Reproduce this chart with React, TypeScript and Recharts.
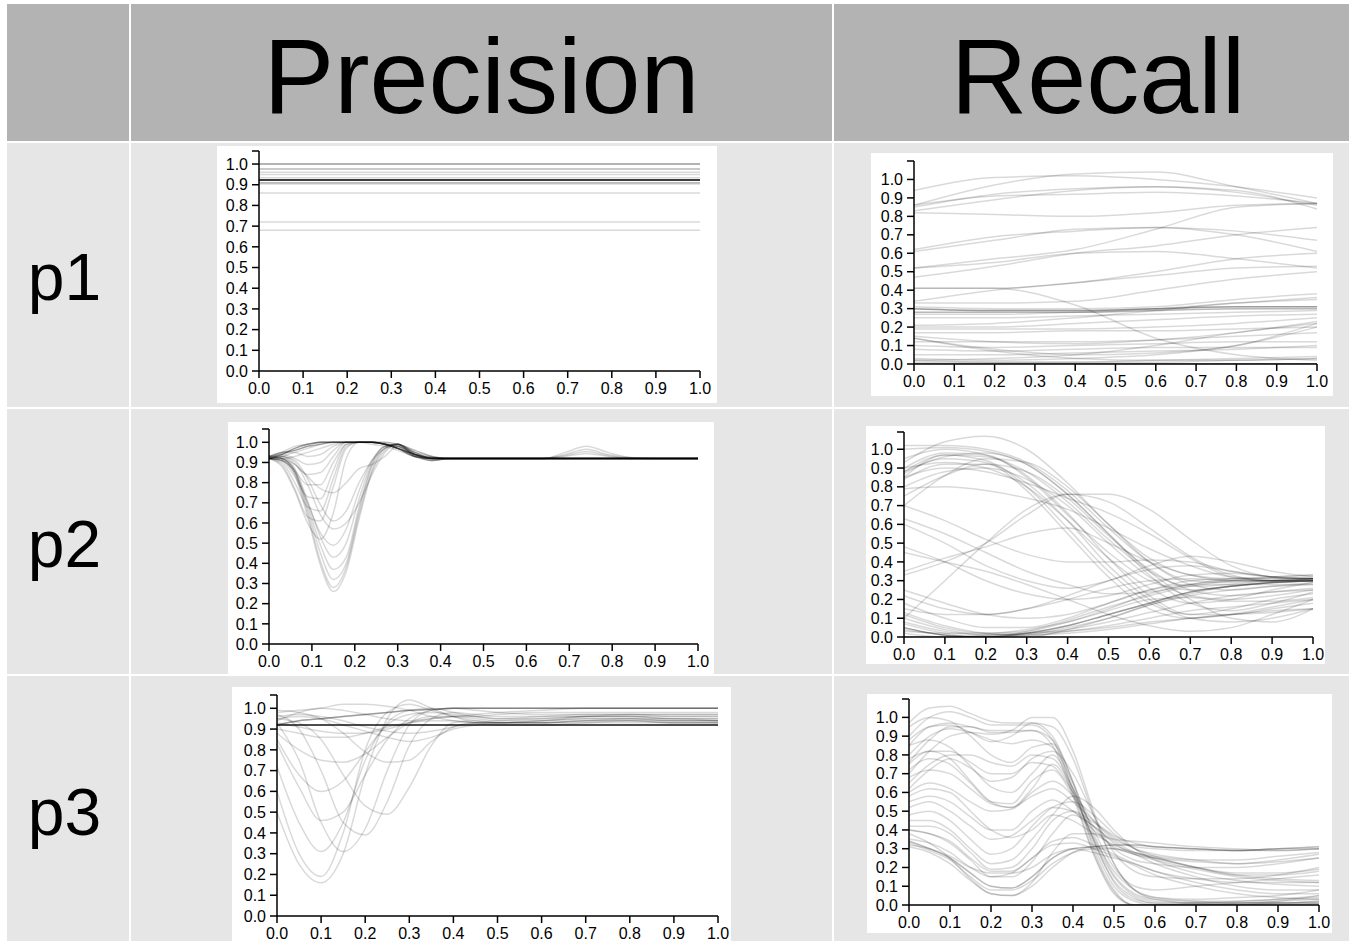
import React from 'react';
import { LineChart, Line, XAxis, YAxis } from 'recharts';

const FONT = '"Liberation Sans", Arial, Helvetica, sans-serif';

const columnTitles = ['Precision', 'Recall'];
const rowLabels = ['p1', 'p2', 'p3'];
const xTicks = [0, 0.1, 0.2, 0.3, 0.4, 0.5, 0.6, 0.7, 0.8, 0.9, 1.0];
const yTicks = [0, 0.1, 0.2, 0.3, 0.4, 0.5, 0.6, 0.7, 0.8, 0.9, 1.0];

// p1 / precision: flat lines
const p1PrecisionX = [0, 1];
const p1PrecisionLines = [
  [1.0, 1.0], [1.0, 1.0], [1.0, 1.0],
  [0.976, 0.976], [0.976, 0.976],
  [0.96, 0.96], [0.95, 0.95], [0.934, 0.934],
  [0.923, 0.923], [0.923, 0.923], [0.923, 0.923], [0.923, 0.923],
  [0.923, 0.923], [0.923, 0.923], [0.923, 0.923], [0.923, 0.923],
  [0.923, 0.923], [0.923, 0.923], [0.923, 0.923], [0.923, 0.923],
  [0.91, 0.91], [0.91, 0.91], [0.903, 0.903],
  [0.86, 0.86], [0.72, 0.72], [0.68, 0.68],
];

// p1 / recall
const p1RecallX = [0, 0.2, 0.4, 0.6, 0.8, 1.0];
const p1RecallLines = [
  [0.94, 1.01, 1.02, 1.0, 0.96, 0.9],
  [0.86, 0.97, 1.03, 1.04, 0.96, 0.87],
  [0.86, 0.91, 0.92, 0.93, 0.91, 0.87],
  [0.85, 0.92, 0.95, 0.96, 0.93, 0.86],
  [0.82, 0.81, 0.8, 0.82, 0.86, 0.87],
  [0.83, 0.89, 0.94, 0.96, 0.94, 0.84],
  [0.62, 0.69, 0.72, 0.74, 0.72, 0.67],
  [0.61, 0.67, 0.73, 0.74, 0.7, 0.61],
  [0.52, 0.57, 0.62, 0.73, 0.85, 0.87],
  [0.52, 0.55, 0.6, 0.61, 0.57, 0.52],
  [0.47, 0.53, 0.6, 0.64, 0.7, 0.74],
  [0.41, 0.41, 0.44, 0.5, 0.57, 0.6],
  [0.41, 0.41, 0.32, 0.14, 0.05, 0.02],
  [0.34, 0.4, 0.44, 0.48, 0.52, 0.53],
  [0.33, 0.33, 0.34, 0.4, 0.46, 0.5],
  [0.31, 0.3, 0.3, 0.31, 0.35, 0.38],
  [0.3, 0.29, 0.29, 0.3, 0.31, 0.31],
  [0.3, 0.29, 0.29, 0.3, 0.31, 0.31],
  [0.3, 0.29, 0.29, 0.3, 0.31, 0.31],
  [0.28, 0.28, 0.28, 0.29, 0.3, 0.3],
  [0.28, 0.28, 0.28, 0.29, 0.3, 0.3],
  [0.27, 0.27, 0.28, 0.3, 0.33, 0.36],
  [0.25, 0.25, 0.26, 0.27, 0.28, 0.29],
  [0.21, 0.22, 0.25, 0.29, 0.33, 0.35],
  [0.2, 0.2, 0.22, 0.24, 0.26, 0.27],
  [0.19, 0.19, 0.19, 0.2, 0.22, 0.25],
  [0.17, 0.17, 0.18, 0.18, 0.19, 0.2],
  [0.15, 0.12, 0.11, 0.13, 0.17, 0.23],
  [0.14, 0.08, 0.05, 0.06, 0.1, 0.22],
  [0.14, 0.07, 0.03, 0.02, 0.02, 0.03],
  [0.12, 0.12, 0.12, 0.13, 0.15, 0.17],
  [0.1, 0.09, 0.1, 0.11, 0.12, 0.12],
  [0.08, 0.07, 0.08, 0.09, 0.09, 0.09],
  [0.05, 0.05, 0.06, 0.07, 0.08, 0.1],
  [0.03, 0.02, 0.03, 0.05, 0.1, 0.2],
  [0.02, 0.01, 0.01, 0.02, 0.03, 0.04],
  [0.01, 0.01, 0.01, 0.01, 0.02, 0.03],
  [0.02, 0.03, 0.05, 0.1, 0.17, 0.22],
  [0, 0, 0, 0, 0, 0],
  [0, 0, 0, 0, 0, 0],
  [0, 0, 0, 0, 0, 0],
];

// p2 / precision
const p2PrecisionX = [0, 0.03, 0.06, 0.09, 0.12, 0.15, 0.18, 0.21, 0.24, 0.27, 0.3, 0.34, 0.38, 0.42, 0.55, 0.64, 0.69, 0.74, 0.79, 0.84, 0.9, 1.0];
const p2PrecisionLines = [
  [0.92, 0.94, 0.97, 0.99, 1.0, 1.0, 1.0, 1.0, 1.0, 0.99, 0.97, 0.94, 0.925, 0.92, 0.92, 0.92, 0.92, 0.92, 0.92, 0.92, 0.92, 0.92],
  [0.92, 0.94, 0.97, 0.99, 1.0, 1.0, 1.0, 1.0, 1.0, 0.99, 0.97, 0.94, 0.925, 0.92, 0.92, 0.92, 0.92, 0.92, 0.92, 0.92, 0.92, 0.92],
  [0.93, 0.95, 0.96, 0.98, 0.99, 1.0, 1.0, 1.0, 1.0, 1.0, 0.99, 0.96, 0.93, 0.92, 0.92, 0.92, 0.92, 0.92, 0.92, 0.92, 0.92, 0.92],
  [0.93, 0.95, 0.96, 0.98, 0.99, 1.0, 1.0, 1.0, 1.0, 1.0, 0.99, 0.96, 0.93, 0.92, 0.92, 0.92, 0.92, 0.92, 0.92, 0.92, 0.92, 0.92],
  [0.92, 0.93, 0.95, 0.97, 0.99, 1.0, 1.0, 1.0, 1.0, 0.995, 0.98, 0.95, 0.93, 0.92, 0.92, 0.92, 0.95, 0.98, 0.95, 0.925, 0.92, 0.92],
  [0.92, 0.94, 0.96, 0.98, 1.0, 1.0, 1.0, 1.0, 1.0, 0.99, 0.98, 0.94, 0.925, 0.92, 0.92, 0.92, 0.94, 0.965, 0.94, 0.925, 0.92, 0.92],
  [0.93, 0.94, 0.97, 0.99, 1.0, 1.0, 1.0, 1.0, 1.0, 0.99, 0.97, 0.94, 0.92, 0.92, 0.92, 0.92, 0.935, 0.955, 0.935, 0.92, 0.92, 0.92],
  [0.92, 0.95, 0.98, 0.99, 1.0, 1.0, 1.0, 1.0, 0.99, 0.98, 0.96, 0.93, 0.92, 0.92, 0.92, 0.92, 0.93, 0.945, 0.93, 0.92, 0.92, 0.92],
  [0.92, 0.92, 0.93, 0.95, 0.97, 0.99, 1.0, 1.0, 1.0, 0.99, 0.97, 0.94, 0.925, 0.92, 0.92, 0.92, 0.92, 0.92, 0.92, 0.92, 0.92, 0.92],
  [0.92, 0.91, 0.84, 0.63, 0.39, 0.26, 0.36, 0.62, 0.85, 0.96, 0.99, 0.95, 0.92, 0.92, 0.92, 0.92, 0.92, 0.92, 0.92, 0.92, 0.92, 0.92],
  [0.92, 0.91, 0.85, 0.65, 0.41, 0.28, 0.38, 0.64, 0.86, 0.97, 0.99, 0.94, 0.91, 0.92, 0.92, 0.92, 0.92, 0.92, 0.92, 0.92, 0.92, 0.92],
  [0.93, 0.92, 0.86, 0.67, 0.45, 0.32, 0.4, 0.66, 0.88, 0.97, 0.99, 0.94, 0.91, 0.92, 0.92, 0.92, 0.92, 0.92, 0.92, 0.92, 0.92, 0.92],
  [0.93, 0.92, 0.86, 0.69, 0.49, 0.37, 0.43, 0.68, 0.89, 0.98, 0.99, 0.93, 0.91, 0.92, 0.92, 0.92, 0.92, 0.92, 0.92, 0.92, 0.92, 0.92],
  [0.93, 0.92, 0.87, 0.71, 0.53, 0.43, 0.5, 0.72, 0.9, 0.98, 0.99, 0.93, 0.91, 0.92, 0.92, 0.92, 0.92, 0.92, 0.92, 0.92, 0.92, 0.92],
  [0.92, 0.91, 0.85, 0.7, 0.55, 0.49, 0.57, 0.76, 0.91, 0.98, 0.99, 0.93, 0.92, 0.92, 0.92, 0.92, 0.92, 0.92, 0.92, 0.92, 0.92, 0.92],
  [0.92, 0.93, 0.9, 0.79, 0.64, 0.57, 0.6, 0.7, 0.84, 0.95, 0.99, 0.95, 0.92, 0.92, 0.92, 0.92, 0.92, 0.92, 0.92, 0.92, 0.92, 0.92],
  [0.92, 0.93, 0.91, 0.82, 0.69, 0.61, 0.66, 0.8, 0.91, 0.97, 0.99, 0.94, 0.92, 0.92, 0.92, 0.92, 0.92, 0.92, 0.92, 0.92, 0.92, 0.92],
  [0.92, 0.92, 0.89, 0.83, 0.77, 0.75, 0.8, 0.87, 0.89, 0.93, 0.98, 0.95, 0.92, 0.92, 0.92, 0.92, 0.92, 0.92, 0.92, 0.92, 0.92, 0.92],
  [0.92, 0.88, 0.76, 0.6, 0.52, 0.65, 0.92, 1.0, 1.0, 0.99, 0.98, 0.94, 0.92, 0.92, 0.92, 0.92, 0.92, 0.92, 0.92, 0.92, 0.92, 0.92],
  [0.92, 0.89, 0.77, 0.63, 0.61, 0.78, 0.97, 1.0, 1.0, 0.99, 0.98, 0.94, 0.92, 0.92, 0.92, 0.92, 0.92, 0.92, 0.92, 0.92, 0.92, 0.92],
  [0.92, 0.9, 0.8, 0.68, 0.66, 0.82, 0.98, 1.0, 1.0, 0.99, 0.97, 0.94, 0.92, 0.92, 0.92, 0.92, 0.92, 0.92, 0.92, 0.92, 0.92, 0.92],
  [0.92, 0.91, 0.83, 0.73, 0.72, 0.86, 0.99, 1.0, 1.0, 0.99, 0.97, 0.94, 0.92, 0.92, 0.92, 0.92, 0.92, 0.92, 0.92, 0.92, 0.92, 0.92],
  [0.92, 0.92, 0.86, 0.79, 0.79, 0.9, 0.99, 1.0, 1.0, 0.99, 0.97, 0.93, 0.92, 0.92, 0.92, 0.92, 0.92, 0.92, 0.92, 0.92, 0.92, 0.92],
  [0.92, 0.93, 0.89, 0.84, 0.85, 0.93, 1.0, 1.0, 1.0, 0.99, 0.97, 0.93, 0.92, 0.92, 0.92, 0.92, 0.92, 0.92, 0.92, 0.92, 0.92, 0.92],
  [0.93, 0.94, 0.92, 0.89, 0.9, 0.96, 1.0, 1.0, 1.0, 0.99, 0.97, 0.93, 0.92, 0.92, 0.92, 0.92, 0.92, 0.92, 0.92, 0.92, 0.92, 0.92],
  [0.93, 0.95, 0.95, 0.93, 0.94, 0.98, 1.0, 1.0, 1.0, 0.99, 0.97, 0.93, 0.92, 0.92, 0.92, 0.92, 0.92, 0.92, 0.92, 0.92, 0.92, 0.92],
];

// p2 / recall
const p2RecallX = [0, 0.1, 0.2, 0.3, 0.4, 0.5, 0.6, 0.7, 0.8, 0.9, 1.0];
const p2RecallLines = [
  [0.9, 0.98, 0.97, 0.85, 0.65, 0.45, 0.3, 0.25, 0.27, 0.29, 0.3],
  [0.85, 0.97, 0.96, 0.88, 0.72, 0.52, 0.35, 0.27, 0.28, 0.3, 0.31],
  [0.93, 1.04, 1.07, 1.0, 0.82, 0.6, 0.42, 0.33, 0.31, 0.31, 0.31],
  [1.02, 1.02, 1.0, 0.93, 0.78, 0.58, 0.4, 0.3, 0.29, 0.3, 0.3],
  [0.75, 0.86, 0.92, 0.88, 0.74, 0.54, 0.36, 0.25, 0.22, 0.24, 0.26],
  [0.88, 0.97, 0.94, 0.8, 0.58, 0.35, 0.18, 0.12, 0.15, 0.2, 0.23],
  [0.87, 0.95, 0.93, 0.78, 0.55, 0.32, 0.15, 0.1, 0.12, 0.16, 0.2],
  [0.84, 0.92, 0.92, 0.82, 0.62, 0.38, 0.2, 0.1, 0.08, 0.1, 0.15],
  [0.95, 1.0, 0.97, 0.86, 0.66, 0.42, 0.22, 0.12, 0.12, 0.15, 0.18],
  [0.8, 0.88, 0.9, 0.84, 0.7, 0.5, 0.32, 0.22, 0.2, 0.22, 0.25],
  [0.79, 0.8, 0.78, 0.74, 0.68, 0.58, 0.47, 0.38, 0.32, 0.31, 0.32],
  [0.7, 0.86, 0.95, 0.93, 0.8, 0.6, 0.4, 0.28, 0.25, 0.27, 0.29],
  [1.0, 1.01, 0.99, 0.92, 0.76, 0.55, 0.35, 0.2, 0.1, 0.08, 0.15],
  [0.88, 0.96, 0.98, 0.92, 0.76, 0.55, 0.33, 0.18, 0.14, 0.18, 0.24],
  [0.9, 0.93, 0.9, 0.8, 0.62, 0.42, 0.26, 0.18, 0.2, 0.25, 0.29],
  [0.85, 0.9, 0.88, 0.82, 0.74, 0.66, 0.55, 0.42, 0.32, 0.3, 0.31],
  [0.33, 0.4, 0.5, 0.65, 0.76, 0.76, 0.68, 0.52, 0.38, 0.32, 0.31],
  [0.7, 0.62, 0.52, 0.44, 0.4, 0.4, 0.41, 0.4, 0.35, 0.32, 0.31],
  [0.63, 0.55, 0.45, 0.35, 0.28, 0.23, 0.24, 0.28, 0.3, 0.3, 0.31],
  [0.48, 0.4, 0.3, 0.23, 0.2, 0.22, 0.28, 0.33, 0.34, 0.32, 0.31],
  [0.22, 0.15, 0.12, 0.15, 0.22, 0.3, 0.36, 0.38, 0.35, 0.32, 0.31],
  [0.35, 0.42, 0.48, 0.55, 0.58, 0.5, 0.4, 0.33, 0.3, 0.3, 0.3],
  [0.1, 0.3, 0.5, 0.68, 0.76, 0.72, 0.58, 0.43, 0.33, 0.3, 0.31],
  [0.6, 0.5, 0.38, 0.3, 0.26, 0.3, 0.38, 0.43, 0.4, 0.35, 0.32],
  [0.15, 0.12, 0.12, 0.15, 0.2, 0.26, 0.3, 0.31, 0.3, 0.3, 0.3],
  [0.45, 0.4, 0.35, 0.28, 0.2, 0.12, 0.06, 0.03, 0.05, 0.12, 0.2],
  [0.05, 0.01, 0.0, 0.02, 0.06, 0.12, 0.18, 0.24, 0.27, 0.29, 0.3],
  [0.05, 0.01, 0.0, 0.02, 0.06, 0.12, 0.18, 0.24, 0.27, 0.29, 0.3],
  [0.05, 0.01, 0.0, 0.02, 0.06, 0.12, 0.18, 0.24, 0.27, 0.29, 0.3],
  [0.04, 0.01, 0.0, 0.01, 0.05, 0.1, 0.17, 0.23, 0.27, 0.29, 0.3],
  [0.08, 0.03, 0.01, 0.02, 0.04, 0.08, 0.13, 0.18, 0.22, 0.24, 0.25],
  [0.1, 0.04, 0.01, 0.01, 0.03, 0.06, 0.1, 0.14, 0.16, 0.18, 0.2],
  [0.13, 0.06, 0.02, 0.01, 0.02, 0.04, 0.07, 0.1, 0.12, 0.14, 0.15],
  [0.02, 0.0, 0.0, 0.0, 0.04, 0.1, 0.17, 0.22, 0.25, 0.27, 0.28],
  [0.07, 0.02, 0.0, 0.03, 0.09, 0.16, 0.22, 0.27, 0.3, 0.32, 0.33],
  [0.12, 0.05, 0.02, 0.03, 0.08, 0.15, 0.23, 0.28, 0.31, 0.32, 0.33],
  [0.0, 0.0, 0.01, 0.02, 0.03, 0.05, 0.08, 0.1, 0.12, 0.13, 0.15],
  [0.03, 0.02, 0.02, 0.04, 0.08, 0.14, 0.2, 0.21, 0.19, 0.19, 0.21],
  [0.18, 0.1, 0.05, 0.05, 0.1, 0.18, 0.25, 0.28, 0.28, 0.28, 0.28],
  [0.25, 0.18, 0.12, 0.1, 0.12, 0.18, 0.25, 0.3, 0.31, 0.3, 0.3],
];

// p3 / precision
const p3PrecisionX = [0, 0.05, 0.1, 0.15, 0.2, 0.25, 0.3, 0.35, 0.4, 0.45, 0.5, 0.6, 0.7, 0.8, 0.9, 1.0];
const p3Flat = [0.92, 0.92, 0.92, 0.92, 0.92, 0.92, 0.92, 0.92, 0.92, 0.92, 0.92, 0.92, 0.92, 0.92, 0.92, 0.92];
const p3Top = [0.92, 0.94, 0.95, 0.96, 0.97, 0.98, 0.99, 0.995, 1.0, 1.0, 1.0, 1.0, 1.0, 1.0, 1.0, 1.0];
const p3PrecisionLines = [
  p3Flat, p3Flat, p3Flat, p3Flat, p3Flat, p3Flat, p3Flat, p3Flat, p3Flat, p3Flat,
  p3Top, p3Top, p3Top,
  [0.5, 0.25, 0.16, 0.3, 0.68, 0.95, 1.04, 1.0, 0.96, 0.93, 0.92, 0.92, 0.93, 0.94, 0.93, 0.93],
  [0.6, 0.3, 0.19, 0.4, 0.8, 0.98, 1.02, 0.99, 0.96, 0.94, 0.93, 0.93, 0.94, 0.95, 0.94, 0.94],
  [0.72, 0.45, 0.31, 0.45, 0.75, 0.93, 0.99, 1.0, 0.98, 0.96, 0.95, 0.96, 0.97, 0.97, 0.96, 0.96],
  [0.83, 0.62, 0.46, 0.5, 0.68, 0.85, 0.95, 0.99, 1.0, 1.0, 1.0, 1.0, 1.0, 1.0, 1.0, 1.0],
  [0.85, 0.68, 0.6, 0.65, 0.79, 0.92, 0.97, 0.98, 0.97, 0.96, 0.95, 0.95, 0.96, 0.96, 0.95, 0.95],
  [0.93, 0.75, 0.45, 0.31, 0.42, 0.7, 0.92, 0.99, 1.0, 0.99, 0.98, 0.97, 0.97, 0.97, 0.97, 0.97],
  [0.97, 0.9, 0.7, 0.45, 0.39, 0.55, 0.82, 0.95, 0.98, 0.97, 0.96, 0.96, 0.96, 0.96, 0.95, 0.95],
  [0.95, 0.93, 0.85, 0.68, 0.53, 0.49, 0.62, 0.82, 0.93, 0.94, 0.93, 0.93, 0.94, 0.94, 0.93, 0.93],
  [0.99, 0.98, 0.95, 0.88, 0.79, 0.74, 0.75, 0.84, 0.91, 0.93, 0.93, 0.94, 0.95, 0.95, 0.95, 0.94],
  [0.88, 0.8, 0.75, 0.74, 0.78, 0.86, 0.93, 0.96, 0.96, 0.95, 0.94, 0.94, 0.95, 0.95, 0.94, 0.94],
  [0.9, 0.88, 0.86, 0.86, 0.88, 0.91, 0.93, 0.94, 0.94, 0.93, 0.93, 0.93, 0.94, 0.94, 0.94, 0.94],
  [0.95, 0.96, 0.95, 0.92, 0.89, 0.86, 0.84, 0.86, 0.9, 0.92, 0.93, 0.93, 0.93, 0.93, 0.93, 0.93],
  [0.98, 0.99, 1.0, 1.02, 1.02, 1.01, 0.99, 0.96, 0.94, 0.93, 0.93, 0.94, 0.96, 0.97, 0.97, 0.97],
  [0.94, 0.98, 1.0, 0.99, 0.97, 0.95, 0.94, 0.95, 0.96, 0.97, 0.98, 0.99, 1.0, 1.0, 1.0, 1.0],
  [0.96, 0.97, 0.96, 0.94, 0.91, 0.89, 0.88, 0.89, 0.91, 0.93, 0.94, 0.95, 0.96, 0.96, 0.96, 0.96],
  [0.93, 0.91, 0.89, 0.88, 0.88, 0.9, 0.93, 0.95, 0.96, 0.96, 0.97, 0.98, 0.98, 0.98, 0.98, 0.98],
];

// p3 / recall
const p3RecallX = [0, 0.05, 0.1, 0.15, 0.2, 0.25, 0.3, 0.35, 0.4, 0.45, 0.5, 0.55, 0.6, 0.7, 0.8, 0.9, 1.0];
const p3RecallLines = [
  [0.97, 1.05, 1.06, 1.02, 0.98, 0.97, 0.97, 0.9, 0.65, 0.3, 0.08, 0.0, 0.0, 0.01, 0.01, 0.01, 0.02],
  [0.9, 1.0, 1.03, 1.0, 0.96, 0.96, 0.96, 0.88, 0.6, 0.28, 0.07, 0.0, 0.0, 0.0, 0.0, 0.01, 0.01],
  [0.85, 0.95, 0.97, 0.95, 0.93, 0.93, 0.93, 0.85, 0.58, 0.27, 0.06, 0.0, 0.0, 0.0, 0.01, 0.02, 0.05],
  [0.76, 0.88, 0.95, 0.95, 0.92, 0.92, 0.93, 0.88, 0.66, 0.35, 0.12, 0.03, 0.01, 0.01, 0.02, 0.03, 0.04],
  [0.8, 0.9, 0.94, 0.92, 0.88, 0.86, 0.88, 0.84, 0.65, 0.38, 0.16, 0.06, 0.03, 0.02, 0.02, 0.03, 0.05],
  [0.7, 0.82, 0.9, 0.92, 0.91, 0.93, 1.0, 1.0, 0.82, 0.5, 0.22, 0.08, 0.03, 0.01, 0.01, 0.02, 0.03],
  [0.88, 0.95, 0.96, 0.92, 0.87, 0.9, 0.97, 0.95, 0.78, 0.48, 0.22, 0.08, 0.04, 0.03, 0.04, 0.05, 0.08],
  [0.65, 0.75, 0.8, 0.8, 0.76, 0.74, 0.8, 0.78, 0.62, 0.4, 0.2, 0.1, 0.08, 0.1, 0.12, 0.14, 0.16],
  [0.62, 0.72, 0.78, 0.73, 0.66, 0.68, 0.78, 0.82, 0.7, 0.48, 0.28, 0.18, 0.15, 0.14, 0.14, 0.16, 0.2],
  [0.75, 0.82, 0.82, 0.76, 0.7, 0.7, 0.76, 0.74, 0.6, 0.45, 0.35, 0.31, 0.3, 0.29, 0.29, 0.3, 0.3],
  [0.68, 0.72, 0.7, 0.62, 0.54, 0.52, 0.58, 0.62, 0.55, 0.45, 0.37, 0.33, 0.31, 0.3, 0.29, 0.29, 0.3],
  [0.6, 0.65, 0.62, 0.55, 0.5, 0.51, 0.6, 0.66, 0.58, 0.42, 0.3, 0.24, 0.22, 0.2, 0.2, 0.22, 0.25],
  [0.55, 0.58, 0.55, 0.47, 0.4, 0.4, 0.5, 0.56, 0.5, 0.4, 0.31, 0.27, 0.25, 0.23, 0.22, 0.24, 0.27],
  [0.52, 0.55, 0.5, 0.42, 0.35, 0.37, 0.45, 0.52, 0.5, 0.42, 0.34, 0.28, 0.25, 0.2, 0.17, 0.17, 0.19],
  [0.48, 0.5, 0.45, 0.35, 0.27, 0.3, 0.42, 0.52, 0.55, 0.48, 0.38, 0.3, 0.26, 0.2, 0.16, 0.14, 0.13],
  [0.45, 0.45, 0.4, 0.3, 0.22, 0.24, 0.35, 0.48, 0.58, 0.52, 0.4, 0.3, 0.24, 0.17, 0.13, 0.11, 0.1],
  [0.42, 0.42, 0.38, 0.28, 0.19, 0.2, 0.3, 0.45, 0.5, 0.44, 0.36, 0.3, 0.27, 0.24, 0.22, 0.23, 0.25],
  [0.4, 0.38, 0.33, 0.24, 0.15, 0.15, 0.23, 0.38, 0.48, 0.42, 0.33, 0.27, 0.24, 0.19, 0.15, 0.13, 0.12],
  [0.58, 0.62, 0.6, 0.5, 0.4, 0.36, 0.4, 0.48, 0.45, 0.38, 0.32, 0.28, 0.26, 0.24, 0.24, 0.26, 0.28],
  [0.34, 0.3, 0.25, 0.17, 0.1, 0.09, 0.15, 0.25, 0.3, 0.31, 0.32, 0.32, 0.31, 0.3, 0.29, 0.3, 0.31],
  [0.34, 0.3, 0.25, 0.17, 0.1, 0.09, 0.15, 0.25, 0.3, 0.31, 0.32, 0.32, 0.31, 0.3, 0.29, 0.3, 0.31],
  [0.33, 0.29, 0.24, 0.15, 0.08, 0.08, 0.13, 0.22, 0.28, 0.3, 0.3, 0.28, 0.25, 0.2, 0.16, 0.16, 0.18],
  [0.31, 0.28, 0.22, 0.13, 0.06, 0.05, 0.1, 0.2, 0.28, 0.31, 0.3, 0.27, 0.22, 0.15, 0.1, 0.08, 0.08],
  [0.32, 0.3, 0.26, 0.2, 0.17, 0.17, 0.2, 0.27, 0.3, 0.28, 0.25, 0.22, 0.18, 0.12, 0.08, 0.06, 0.06],
  [0.35, 0.33, 0.28, 0.2, 0.15, 0.17, 0.25, 0.32, 0.33, 0.3, 0.26, 0.21, 0.16, 0.1, 0.06, 0.04, 0.03],
  [0.4, 0.38, 0.34, 0.25, 0.18, 0.18, 0.25, 0.34, 0.36, 0.32, 0.27, 0.22, 0.18, 0.14, 0.12, 0.12, 0.12],
  [0.38, 0.33, 0.25, 0.14, 0.06, 0.05, 0.12, 0.28, 0.38, 0.38, 0.35, 0.34, 0.33, 0.31, 0.3, 0.29, 0.3],
  [0.78, 0.82, 0.78, 0.66, 0.55, 0.52, 0.62, 0.75, 0.6, 0.35, 0.15, 0.05, 0.02, 0.01, 0.0, 0.0, 0.0],
  [0.95, 1.0, 0.98, 0.9, 0.8, 0.76, 0.84, 0.86, 0.62, 0.32, 0.1, 0.02, 0.0, 0.0, 0.0, 0.01, 0.01],
  [0.85, 0.88, 0.84, 0.74, 0.63, 0.6, 0.7, 0.8, 0.62, 0.34, 0.13, 0.04, 0.01, 0.0, 0.0, 0.0, 0.01],
  [0.72, 0.78, 0.75, 0.65, 0.55, 0.54, 0.66, 0.72, 0.58, 0.36, 0.18, 0.08, 0.04, 0.02, 0.01, 0.01, 0.02],
];

type Box = { left: number; top: number; width: number; height: number };
type Plot = { left: number; right: number; top: number; bottom: number };

function buildRows(xs: number[], lines: number[][]) {
  return xs.map((x, i) => {
    const row: Record<string, number> = { x };
    lines.forEach((line, j) => {
      row['s' + j] = line[i];
    });
    return row;
  });
}

const TICK_FONT = 16;
const tickStyle = { fill: '#000', fontSize: TICK_FONT, fontFamily: FONT };
const axisStroke = { stroke: '#000', strokeWidth: 1.5 };

function SmallChart({
  box,
  plot,
  yMax,
  xs,
  lines,
  curve,
}: {
  box: Box;
  plot: Plot;
  yMax: number;
  xs: number[];
  lines: number[][];
  curve: 'monotone' | 'linear';
}) {
  const data = buildRows(xs, lines);
  return (
    <div
      style={{
        position: 'absolute',
        left: box.left,
        top: box.top,
        width: box.width,
        height: box.height,
        background: '#fff',
      }}
    >
      <LineChart
        width={box.width}
        height={box.height}
        data={data}
        margin={{ top: plot.top, right: box.width - plot.right, bottom: 0, left: 0 }}
        style={{ fontSize: TICK_FONT, fontFamily: FONT }}
      >
        <XAxis
          dataKey="x"
          type="number"
          domain={[0, 1]}
          ticks={xTicks}
          interval={0}
          height={box.height - plot.bottom}
          tickFormatter={(v: number) => v.toFixed(1)}
          axisLine={axisStroke}
          tickLine={axisStroke}
          tickSize={7}
          tickMargin={5}
          fontSize={TICK_FONT}
          tick={tickStyle}
        />
        <YAxis
          type="number"
          domain={[0, yMax]}
          ticks={[...yTicks, yMax]}
          interval={0}
          width={plot.left}
          allowDataOverflow
          tickFormatter={(v: number) => (v > 1.001 ? '' : v.toFixed(1))}
          axisLine={axisStroke}
          tickLine={axisStroke}
          tickSize={7}
          tickMargin={4}
          fontSize={TICK_FONT}
          tick={tickStyle}
        />
        {lines.map((_, j) => (
          <Line
            key={j}
            dataKey={'s' + j}
            type={curve}
            stroke="#000"
            strokeOpacity={0.15}
            strokeWidth={1.5}
            dot={false}
            activeDot={false}
            isAnimationActive={false}
          />
        ))}
      </LineChart>
    </div>
  );
}

const cell = (left: number, top: number, width: number, height: number, bg: string) => (
  <div style={{ position: 'absolute', left, top, width, height, background: bg }} />
);

export default function App() {
  const header = '#b3b3b3';
  const body = '#e6e6e6';
  const cols = [
    [7, 122],
    [131, 701],
    [834, 515],
  ];
  const rows = [
    [143, 264],
    [409, 265],
    [676, 265],
  ];
  const labelBaselines = [300, 567, 835];

  return (
    <div
      style={{
        position: 'absolute',
        left: 0,
        top: 0,
        width: 1349,
        height: 941,
        overflow: 'hidden',
        background: '#fff',
        fontFamily: FONT,
      }}
    >
      {cols.map(([l, w], i) => (
        <React.Fragment key={i}>
          {cell(l, 4, w, 137, header)}
          {rows.map(([t, h], k) => (
            <React.Fragment key={k}>{cell(l, t, w, h, body)}</React.Fragment>
          ))}
        </React.Fragment>
      ))}

      <div
        style={{
          position: 'absolute',
          left: 131,
          width: 701,
          top: 23,
          fontSize: 106,
          lineHeight: '106px',
          textAlign: 'center',
          color: '#000',
        }}
      >
        {columnTitles[0]}
      </div>
      <div
        style={{
          position: 'absolute',
          left: 834,
          width: 528,
          top: 23,
          fontSize: 106,
          lineHeight: '106px',
          textAlign: 'center',
          color: '#000',
        }}
      >
        {columnTitles[1]}
      </div>

      {rowLabels.map((label, i) => (
        <div
          key={label}
          style={{
            position: 'absolute',
            left: 7,
            width: 115,
            top: labelBaselines[i] - 56,
            fontSize: 66,
            lineHeight: '66px',
            textAlign: 'center',
            color: '#000',
          }}
        >
          {label}
        </div>
      ))}

      <SmallChart
        box={{ left: 217, top: 146, width: 500, height: 257 }}
        plot={{ left: 42, right: 483, top: 5, bottom: 225 }}
        yMax={1.063}
        xs={p1PrecisionX}
        lines={p1PrecisionLines}
        curve="linear"
      />
      <SmallChart
        box={{ left: 871, top: 153, width: 462, height: 243 }}
        plot={{ left: 43, right: 446, top: 8, bottom: 211 }}
        yMax={1.1}
        xs={p1RecallX}
        lines={p1RecallLines}
        curve="monotone"
      />
      <SmallChart
        box={{ left: 228, top: 422, width: 486, height: 254 }}
        plot={{ left: 41, right: 470, top: 7, bottom: 222 }}
        yMax={1.066}
        xs={p2PrecisionX}
        lines={p2PrecisionLines}
        curve="monotone"
      />
      <SmallChart
        box={{ left: 866, top: 426, width: 459, height: 238 }}
        plot={{ left: 38, right: 447, top: 6, bottom: 211 }}
        yMax={1.092}
        xs={p2RecallX}
        lines={p2RecallLines}
        curve="monotone"
      />
      <SmallChart
        box={{ left: 232, top: 687, width: 499, height: 262 }}
        plot={{ left: 45, right: 486, top: 8, bottom: 229 }}
        yMax={1.064}
        xs={p3PrecisionX}
        lines={p3PrecisionLines}
        curve="monotone"
      />
      <SmallChart
        box={{ left: 867, top: 694, width: 465, height: 239 }}
        plot={{ left: 42, right: 452, top: 5, bottom: 211 }}
        yMax={1.098}
        xs={p3RecallX}
        lines={p3RecallLines}
        curve="monotone"
      />
    </div>
  );
}
